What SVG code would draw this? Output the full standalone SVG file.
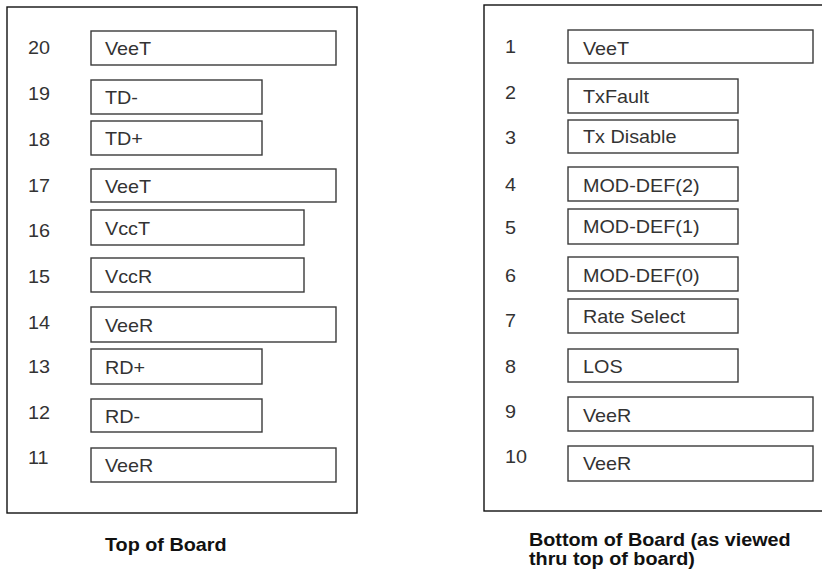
<svg xmlns="http://www.w3.org/2000/svg" width="822" height="574" viewBox="0 0 822 574">
<style>
.board{fill:#fff;stroke:#111;stroke-width:1.4}
.pin{fill:#fff;stroke:#3a3a3a;stroke-width:1.4}
.t{font-family:"Liberation Sans",Arial,sans-serif;font-size:18px;fill:#333}
.ttl{font-family:"Liberation Sans",Arial,sans-serif;font-size:18px;font-weight:bold;fill:#111}
</style>
<rect width="822" height="574" fill="#fff"/>
<g id="top-board">
<rect class="board" x="7" y="7" width="350" height="506"/>
<text class="ttl" x="95.45" y="551" transform="scale(1.1,1)">Top of Board</text>
</g>
<g id="bottom-board">
<rect class="board" x="484" y="5" width="360" height="506"/>
<text class="ttl" x="480.9" y="546" transform="scale(1.1,1)">Bottom of Board (as viewed</text>
<text class="ttl" x="480.9" y="565" transform="scale(1.1,1)">thru top of board)</text>
</g>
<g id="pin20"><rect class="pin" x="91" y="31" width="245" height="34"/><text class="t" x="25.45" y="54" transform="scale(1.1,1)">20</text><text class="t" x="95.45" y="55" transform="scale(1.1,1)">VeeT</text></g>
<g id="pin19"><rect class="pin" x="91" y="80" width="171" height="34"/><text class="t" x="25.45" y="100" transform="scale(1.1,1)">19</text><text class="t" x="95.45" y="104" transform="scale(1.1,1)">TD-</text></g>
<g id="pin18"><rect class="pin" x="91" y="121" width="171" height="34"/><text class="t" x="25.45" y="146" transform="scale(1.1,1)">18</text><text class="t" x="95.45" y="145" transform="scale(1.1,1)">TD+</text></g>
<g id="pin17"><rect class="pin" x="91" y="169" width="245" height="33"/><text class="t" x="25.45" y="192" transform="scale(1.1,1)">17</text><text class="t" x="95.45" y="193" transform="scale(1.1,1)">VeeT</text></g>
<g id="pin16"><rect class="pin" x="91" y="210" width="213" height="35"/><text class="t" x="25.45" y="237" transform="scale(1.1,1)">16</text><text class="t" x="95.45" y="235" transform="scale(1.1,1)">VccT</text></g>
<g id="pin15"><rect class="pin" x="91" y="258" width="213" height="34"/><text class="t" x="25.45" y="283" transform="scale(1.1,1)">15</text><text class="t" x="95.45" y="283" transform="scale(1.1,1)">VccR</text></g>
<g id="pin14"><rect class="pin" x="91" y="307" width="245" height="35"/><text class="t" x="25.45" y="329" transform="scale(1.1,1)">14</text><text class="t" x="95.45" y="332" transform="scale(1.1,1)">VeeR</text></g>
<g id="pin13"><rect class="pin" x="91" y="349" width="171" height="35"/><text class="t" x="25.45" y="373" transform="scale(1.1,1)">13</text><text class="t" x="95.45" y="374" transform="scale(1.1,1)">RD+</text></g>
<g id="pin12"><rect class="pin" x="91" y="399" width="171" height="33"/><text class="t" x="25.45" y="419" transform="scale(1.1,1)">12</text><text class="t" x="95.45" y="423" transform="scale(1.1,1)">RD-</text></g>
<g id="pin11"><rect class="pin" x="91" y="448" width="245" height="34"/><text class="t" x="25.45" y="464" transform="scale(1.1,1)">11</text><text class="t" x="95.45" y="472" transform="scale(1.1,1)">VeeR</text></g>
<g id="pin1"><rect class="pin" x="568" y="30" width="245" height="33"/><text class="t" x="459.1" y="53" transform="scale(1.1,1)">1</text><text class="t" x="530" y="55" transform="scale(1.1,1)">VeeT</text></g>
<g id="pin2"><rect class="pin" x="568" y="79" width="170" height="34"/><text class="t" x="459.1" y="99" transform="scale(1.1,1)">2</text><text class="t" x="530" y="103" transform="scale(1.1,1)">TxFault</text></g>
<g id="pin3"><rect class="pin" x="568" y="120" width="170" height="33"/><text class="t" x="459.1" y="144" transform="scale(1.1,1)">3</text><text class="t" x="530" y="143" transform="scale(1.1,1)">Tx Disable</text></g>
<g id="pin4"><rect class="pin" x="568" y="167" width="170" height="34"/><text class="t" x="459.1" y="191" transform="scale(1.1,1)">4</text><text class="t" x="530" y="192" transform="scale(1.1,1)">MOD-DEF(2)</text></g>
<g id="pin5"><rect class="pin" x="568" y="209" width="170" height="35"/><text class="t" x="459.1" y="234" transform="scale(1.1,1)">5</text><text class="t" x="530" y="233" transform="scale(1.1,1)">MOD-DEF(1)</text></g>
<g id="pin6"><rect class="pin" x="568" y="257" width="170" height="34"/><text class="t" x="459.1" y="282" transform="scale(1.1,1)">6</text><text class="t" x="530" y="282" transform="scale(1.1,1)">MOD-DEF(0)</text></g>
<g id="pin7"><rect class="pin" x="568" y="299" width="170" height="34"/><text class="t" x="459.1" y="327" transform="scale(1.1,1)">7</text><text class="t" x="530" y="323" transform="scale(1.1,1)">Rate Select</text></g>
<g id="pin8"><rect class="pin" x="568" y="349" width="170" height="33"/><text class="t" x="459.1" y="373" transform="scale(1.1,1)">8</text><text class="t" x="530" y="373" transform="scale(1.1,1)">LOS</text></g>
<g id="pin9"><rect class="pin" x="568" y="397" width="245" height="34"/><text class="t" x="459.1" y="418" transform="scale(1.1,1)">9</text><text class="t" x="530" y="422" transform="scale(1.1,1)">VeeR</text></g>
<g id="pin10"><rect class="pin" x="568" y="446" width="245" height="35"/><text class="t" x="459.1" y="463" transform="scale(1.1,1)">10</text><text class="t" x="530" y="470" transform="scale(1.1,1)">VeeR</text></g>
<g id="connectors"/>
</svg>
